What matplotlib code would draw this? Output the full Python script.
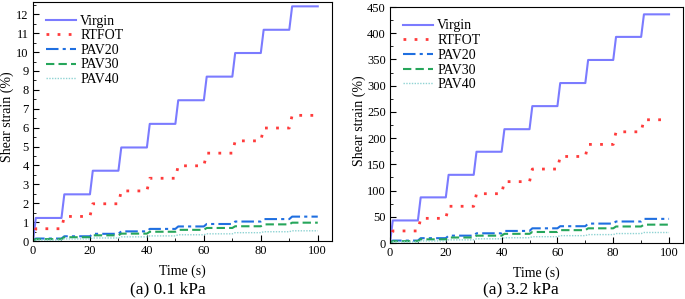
import numpy as np
import matplotlib.pyplot as plt
from matplotlib.ticker import MultipleLocator

plt.rcParams['font.family'] = ['Liberation Serif', 'DejaVu Serif']

names = ["Virgin", "RTFOT", "PAV20", "PAV30", "PAV40"]

# strain level reached after each of the 10 creep cycles (%)
low_virgin = [1.22, 2.47, 3.72, 4.95, 6.20, 7.45, 8.70, 9.95, 11.18, 12.42]
low_rtfot = [0.65, 1.30, 1.97, 2.65, 3.32, 3.98, 4.65, 5.30, 5.98, 6.65]
low_pav20 = [0.13, 0.25, 0.38, 0.51, 0.64, 0.77, 0.90, 1.03, 1.16, 1.29]
low_pav30 = [0.10, 0.20, 0.30, 0.39, 0.49, 0.59, 0.69, 0.78, 0.88, 0.97]
low_pav40 = [0.05, 0.11, 0.16, 0.22, 0.27, 0.33, 0.38, 0.44, 0.49, 0.54]

high_virgin = [43, 87, 130, 174, 217, 261, 305, 349, 393, 436]
high_rtfot = [23, 47, 70, 94, 117, 141, 165, 188, 212, 235]
high_pav20 = [4.6, 9.2, 14, 18.5, 23, 28, 32, 37, 41, 46]
high_pav30 = [3.5, 7, 10.5, 14, 17.5, 21, 24.5, 28, 31.5, 35]
high_pav40 = [2, 4, 6, 8, 10, 12, 14, 16, 18, 20]

cycle_len = 10   # s, 1 s creep + 9 s recovery
creep_len = 1

colors = ["#7b7bff", "#ff3b3b", "#1f6fe0", "#26a65b", "#8fd3d3"]
styles = [dict(ls="-", lw=1.5),
          dict(ls=(0, (1, 3)), lw=2.0),
          dict(ls=(0, (6, 2, 1.5, 2)), lw=1.5),
          dict(ls=(0, (4, 2)), lw=1.5),
          dict(ls=(0, (1, 1)), lw=1.0)]


def staircase(levels):
    t = [0.0]
    y = [0.0]
    for k, lv in enumerate(levels):
        t += [k * cycle_len + creep_len, (k + 1) * cycle_len]
        y += [lv, lv]
    return np.array(t), np.array(y)


fig = plt.figure(figsize=(6.85, 2.99), dpi=100)
ax1 = fig.add_axes([33 / 685, 1 - 241 / 299, 299 / 685, 239 / 299])
ax2 = fig.add_axes([390 / 685, 1 - 243 / 299, 293 / 685, 236 / 299])

# label_x: right edge (pixels) of the rotated y label
panels = [
    (ax1, [low_virgin, low_rtfot, low_pav20, low_pav30, low_pav40], (0, 12.65), 1, 0.5, "(a) 0.1 kPa", 168, 14),
    (ax2, [high_virgin, high_rtfot, high_pav20, high_pav30, high_pav40], (0, 450), 50, 25, "(a) 3.2 kPa", 521, 366),
]

for ax, data, ylim, major, minor, caption, cx, label_x in panels:
    for name, lv, c, st in zip(names, data, colors, styles):
        t, y = staircase(lv)
        ax.plot(t, y, color=c, label=name, **st)
    ax.set_xlim(0, 105)
    ax.set_ylim(*ylim)
    ax.xaxis.set_major_locator(MultipleLocator(20))
    ax.xaxis.set_minor_locator(MultipleLocator(10))
    ax.yaxis.set_major_locator(MultipleLocator(major))
    ax.yaxis.set_minor_locator(MultipleLocator(minor))
    ax.tick_params(which="both", direction="in", labelsize=9)
    ax.tick_params(which="major", length=4, pad=3)
    ax.tick_params(which="minor", length=2)
    ax.set_xlabel("Time (s)", fontsize=10, labelpad=5)
    ax.set_ylabel("Shear strain (%)", fontsize=10)
    pos = ax.get_position()
    ax.yaxis.set_label_coords((label_x / 685 - pos.x0) / pos.width, 0.52)
    ax.legend(loc="upper left", frameon=False, fontsize=10, handlelength=2.2,
              handletextpad=0.3, labelspacing=0.12, borderaxespad=0.5)
    fig.text(cx / 685, 1 - 289 / 299, caption, ha="center", va="center", fontsize=12.5)

fig.savefig("out.png", dpi=100)
